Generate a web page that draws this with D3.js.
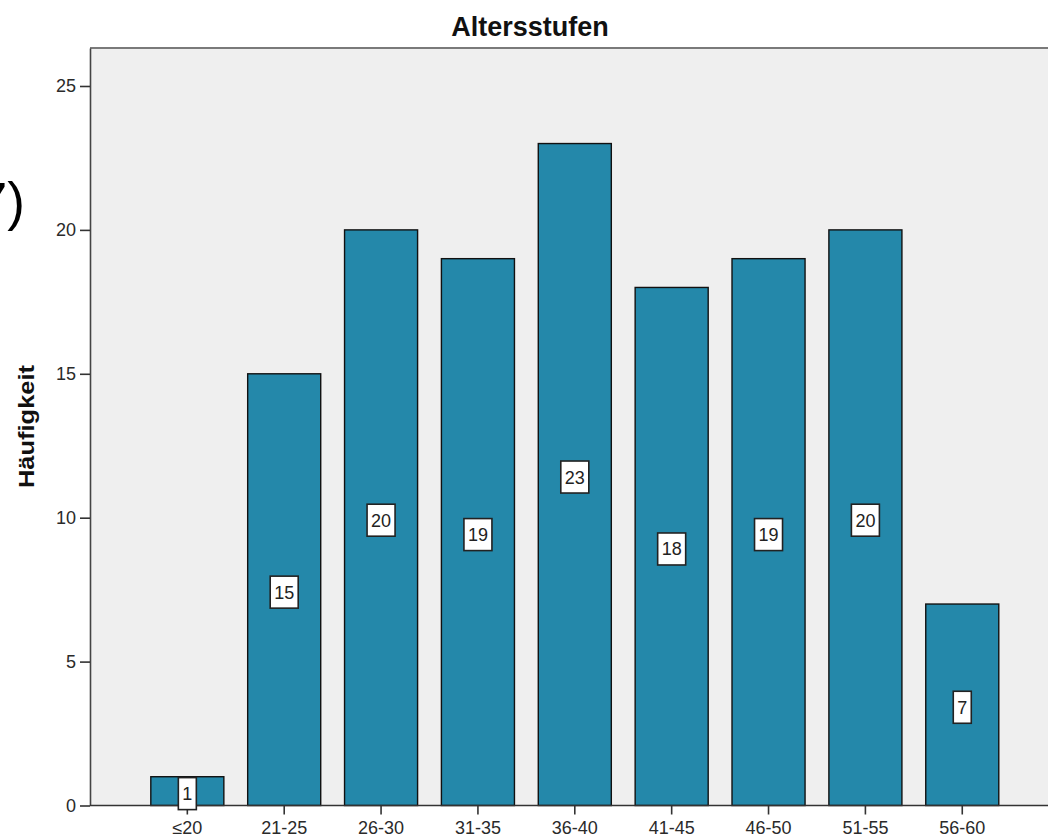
<!DOCTYPE html>
<html>
<head>
<meta charset="utf-8">
<script src="https://cdn.jsdelivr.net/npm/d3@7"></script>
<style>
  html, body { margin: 0; padding: 0; background: #ffffff; }
  svg { display: block; }
  text { font-family: "Liberation Sans", Arial, sans-serif; }
</style>
</head>
<body>
<svg id="chart" width="1048" height="837"></svg>
<script>
// Age groups and their frequencies
const categories = ["≤20", "21-25", "26-30", "31-35", "36-40", "41-45", "46-50", "51-55", "56-60"];
const counts = [1, 15, 20, 19, 23, 18, 19, 20, 7];
const yTicks = [0, 5, 10, 15, 20, 25];
const title = "Altersstufen";
const yTitle = "Häufigkeit";

const W = 1048, H = 837;
const plot = { left: 90, top: 48, right: 1048, bottom: 805.5 };

const svg = d3.select("#chart");

// Fragment of a caption from the surrounding page
svg.append("text")
  .attr("x", 25).attr("y", 220)
  .attr("text-anchor", "end")
  .attr("font-size", 53)
  .attr("font-family", "Liberation Sans, Arial, sans-serif")
  .attr("fill", "#000")
  .text("7)");

const x = d3.scaleBand()
  .domain(categories)
  .range([138.9, 1010.7])
  .paddingInner(0.246)
  .paddingOuter(0.123);

const y = d3.scaleLinear()
  .domain([0, 26.32])
  .range([plot.bottom, plot.top]);

// Plot background
svg.append("rect")
  .attr("x", plot.left).attr("y", plot.top)
  .attr("width", plot.right - plot.left)
  .attr("height", plot.bottom - plot.top)
  .attr("fill", "#efefef");

// Top frame line
svg.append("line")
  .attr("x1", plot.left).attr("x2", plot.right)
  .attr("y1", plot.top).attr("y2", plot.top)
  .attr("stroke", "#7a7a7a").attr("stroke-width", 2);

// Bars
svg.append("g").selectAll("rect")
  .data(counts)
  .join("rect")
  .attr("x", (d, i) => x(categories[i]))
  .attr("y", d => y(d))
  .attr("width", x.bandwidth())
  .attr("height", d => y(0) - y(d))
  .attr("fill", "#2488aa")
  .attr("stroke", "#111")
  .attr("stroke-width", 1.4);

// Y axis
const yAxis = d3.axisLeft(y).tickValues(yTicks).tickSize(10).tickSizeOuter(0)
  .tickPadding(4).tickFormat(d3.format("d"));
const gy = svg.append("g")
  .attr("transform", `translate(${plot.left},0)`)
  .call(yAxis);
gy.select(".domain").attr("stroke", "#444").attr("stroke-width", 1.6);
gy.selectAll(".tick line").attr("stroke", "#333").attr("stroke-width", 1.6);
gy.selectAll(".tick text")
  .attr("font-size", 18)
  .attr("font-family", "Liberation Sans, Arial, sans-serif")
  .attr("fill", "#2a2a2a");

// X axis
const xAxis = d3.axisBottom(x).tickSize(9).tickPadding(7).tickSizeOuter(0);
const gx = svg.append("g")
  .attr("transform", `translate(0,${plot.bottom})`)
  .call(xAxis);
gx.select(".domain").attr("stroke", "#333").attr("stroke-width", 1.6)
  .attr("d", `M${plot.left},0H${plot.right}`);
gx.selectAll(".tick line").attr("stroke", "#333").attr("stroke-width", 1.6);
gx.selectAll(".tick text")
  .attr("font-size", 18)
  .attr("font-family", "Liberation Sans, Arial, sans-serif")
  .attr("fill", "#2a2a2a");

// Value labels in white boxes at mid-height of each bar
const labelG = svg.append("g").selectAll("g")
  .data(counts)
  .join("g")
  .attr("transform", (d, i) => {
    const cx = x(categories[i]) + x.bandwidth() / 2;
    const cy = (y(d) + y(0)) / 2 + 2.5;
    return `translate(${cx},${cy})`;
  });

labelG.append("rect")
  .attr("x", d => -(String(d).length * 10 + 8) / 2)
  .attr("y", -16)
  .attr("width", d => String(d).length * 10 + 8)
  .attr("height", 32)
  .attr("fill", "#fff")
  .attr("stroke", "#222")
  .attr("stroke-width", 1.6);

labelG.append("text")
  .attr("text-anchor", "middle")
  .attr("dy", "0.36em")
  .attr("font-size", 18)
  .attr("fill", "#222")
  .text(d => d);

// Chart title
svg.append("text")
  .attr("x", 530).attr("y", 36)
  .attr("text-anchor", "middle")
  .attr("font-size", 27)
  .attr("font-weight", "bold")
  .attr("fill", "#111")
  .text(title);

// Y axis title
svg.append("text")
  .attr("transform", "translate(34,426.5) rotate(-90)")
  .attr("text-anchor", "middle")
  .attr("font-size", 22)
  .attr("font-weight", "bold")
  .attr("fill", "#111")
  .attr("textLength", 123)
  .attr("lengthAdjust", "spacingAndGlyphs")
  .text(yTitle);
</script>
</body>
</html>
